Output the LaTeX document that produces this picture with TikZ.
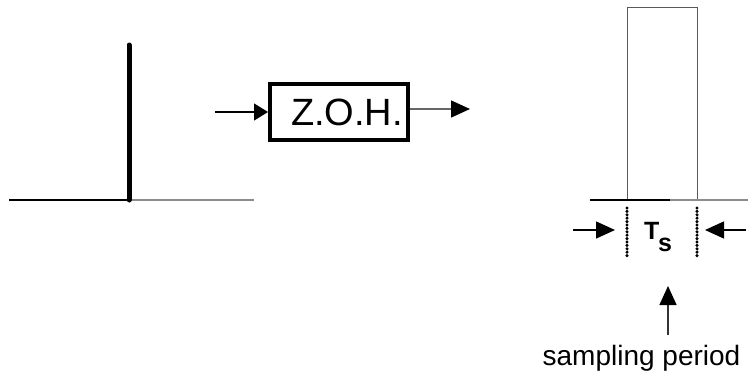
\documentclass[tikz,border=0pt]{standalone}
\usepackage{fontspec}
\setmainfont{Liberation Sans}
\usetikzlibrary{arrows.meta}
\begin{document}
\begin{tikzpicture}[x=1pt,y=-1pt,
  arr/.style={-{Triangle[length=19pt,width=17pt,color=black]}, line width=1.4pt},
  arrshort/.style={-{Triangle[length=14pt,width=17pt]}, line width=1.4pt},
  axisdark/.style={line width=1.6pt, black},
  axislight/.style={line width=1.6pt, black!45},
  pulseline/.style={line width=1pt, black!65},
  dotline/.style={line width=3.4pt, line cap=round, dash pattern=on 0pt off 3.4pt, black}]
\useasboundingbox (0,0) rectangle (749,372);
% left impulse
\coordinate (la) at (9,200);
\coordinate (lb) at (129,200);
\coordinate (lc) at (254,200);
\coordinate (ltop) at (129,45);
\draw[axisdark] (la) -- (lb);
\draw[axislight] (lb) -- (lc);
\draw[line width=5pt, line cap=round] (lb) -- (ltop);
% ZOH block
\node[draw, line width=4pt, minimum width=138pt, minimum height=56pt, inner sep=0pt] (zoh) at (339,112) {};
\node[font=\fontsize{38}{40}\selectfont, inner sep=0pt] (zohtext) at (347,112) {Z.O.H.};
\coordinate (inS) at (215,112);
\coordinate (outE) at (470,109);
\draw[arrshort] (inS) -- (inS -| zoh.west);
\draw[arr, black!60] (zoh.east |- outE) -- (outE);
% right pulse
\coordinate (ra) at (590,200);
\coordinate (rm) at (670,200);
\coordinate (rb) at (748,200);
\coordinate (p1) at (627,200);
\coordinate (p2) at (697,200);
\draw[pulseline] (p1) -- (627,7) -- (697,7) -- (p2);
\draw[axisdark] (ra) -- (rm);
\draw[axislight] (rm) -- (rb);
% dotted markers
\coordinate (d1a) at (627,208); \coordinate (d1b) at (627,256);
\coordinate (d2a) at (697,208); \coordinate (d2b) at (697,256);
\draw[dotline] (d1a) -- (d1b);
\draw[dotline] (d2a) -- (d2b);
\coordinate (al) at (573,230); \coordinate (alt) at (615,230);
\coordinate (ar) at (746,230); \coordinate (art) at (705,230);
\draw[arr] (al) -- (alt);
\draw[arr] (ar) -- (art);
\node[font=\bfseries\fontsize{25}{27}\selectfont, inner sep=0pt] (ts) at (658,237) {T\kern-0.05em\raisebox{-0.5em}{s}};
% sampling period
\node[font=\fontsize{28}{30}\selectfont, anchor=base, inner sep=0pt] (sp) at (641.5,365) {sampling period};
\coordinate (up) at (668,286);
\draw[arr, black!80] (668,335) -- (up);
\end{tikzpicture}
\end{document}
